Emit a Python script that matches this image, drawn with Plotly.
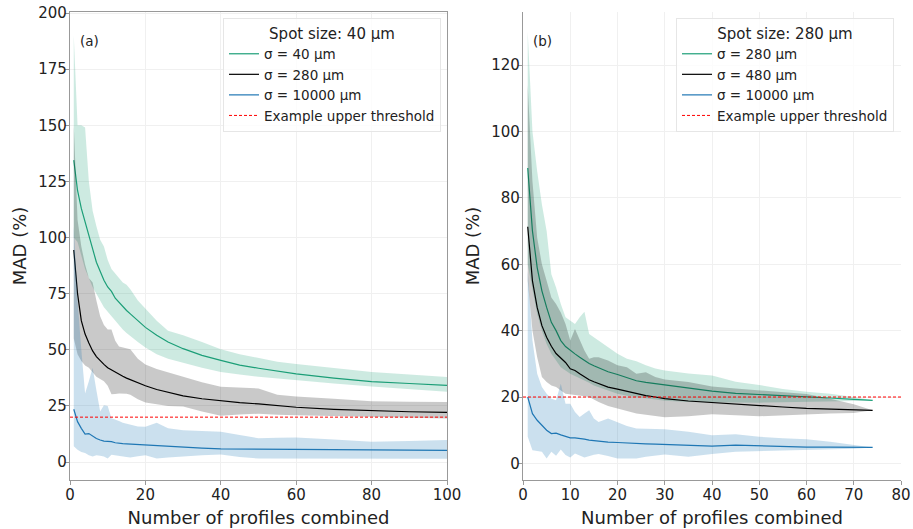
import plotly.graph_objects as go

# (a) spot size 40 um
x_a = [1, 2, 3, 4, 5, 6, 7, 8, 9, 10, 11, 12, 13, 14, 15, 16, 18, 20, 23, 26,
       30, 35, 40, 45, 50, 55, 60, 70, 80, 90, 100]

g_mean_a = [134.5, 121, 113, 107, 100, 94, 89, 85, 81, 78, 76, 73, 71, 69, 67.5, 66, 63, 60, 56.5, 53.5,
            50.5, 47.5, 45.3, 43.2, 41.8, 40.5, 39.3, 37.4, 35.8, 35, 34.2]
g_up_a = [190, 150, 150, 149, 125, 112, 105, 99, 96, 90, 86, 84, 82, 80, 79, 77, 72, 68.5, 63, 58.5,
          56.5, 53.5, 50.2, 48, 46.5, 44.7, 43.7, 42, 40.1, 39, 37.9]
g_lo_a = [100, 98, 92, 86, 82, 78, 75, 72, 69, 67, 65, 63, 61, 59, 57.5, 56, 53.5, 51, 48, 46,
          44.2, 42, 40.1, 39, 38, 37, 36.4, 35, 33.6, 32.4, 31.3]

k_mean_a = [94.5, 75, 63, 57, 53, 49.5, 47, 45, 43.5, 42, 41, 40, 39, 38.2, 37.4, 36.7, 35.3, 34, 32.3, 31,
            29.5, 28.2, 27.3, 26.5, 25.9, 25, 24.4, 23.5, 22.8, 22.4, 22.1]
k_up_a = [150, 108, 96, 88, 82, 80, 72, 65, 61, 59, 59, 54, 51.5, 51, 50.7, 50.3, 46, 43.5, 41.5, 40,
          38, 35.5, 33.5, 33.2, 32.8, 30, 29.2, 28.2, 27.1, 26.9, 26.8]
k_lo_a = [55, 48, 45, 43, 42, 40, 38, 37, 36, 34, 30.2, 30.3, 30.5, 30.5, 30.4, 30, 28, 26.5, 25.8, 25,
          24.7, 22.5, 20.6, 21.2, 21.5, 21.1, 20.9, 20.4, 20, 19.7, 19.4]

b_mean_a = [23.5, 18, 15, 12.5, 12.7, 11.5, 10.5, 9.8, 9.3, 9.2, 9.1, 8.6, 8.3, 8.2, 8.1, 8, 7.8, 7.5, 7.1, 6.9,
            6.6, 6.2, 5.9, 5.8, 5.8, 5.7, 5.7, 5.6, 5.4, 5.3, 5.2]
b_up_a = [105, 72, 50, 30.5, 36, 42, 32, 22.5, 25.3, 25, 19.5, 19, 18.3, 17.5, 17, 16.5, 15.8, 15.7, 17.5, 15,
          14.2, 13.8, 13.5, 12, 10.6, 10.8, 10.9, 10, 9, 9.4, 9.8]
b_lo_a = [7, 5.5, 4.5, 4, 3, 2.5, 3, 2.8, 2.5, 1.6, 3.3, 3.2, 3, 2.5, 2.2, 2, 2.6, 3, 1.6, 2,
          2.6, 3, 3.4, 2.2, 1.6, 1.6, 1.6, 1.6, 1.6, 1.5, 1.5]

# (b) spot size 280 um
x_b = [1, 2, 3, 4, 5, 6, 7, 8, 9, 10, 11, 12, 13, 14, 15, 16, 18, 20, 22, 24,
       26, 28, 30, 35, 40, 45, 50, 55, 60, 65, 70, 74]

g_mean_b = [89, 70, 59, 52, 47, 42.5, 40, 37, 35.2, 34, 33, 32, 31, 30.1, 29.4, 28.8, 27.6, 26.8, 25.8, 24.9,
            24.4, 24, 23.6, 22.6, 21.8, 21.1, 20.8, 20.4, 20.1, 19.7, 19.3, 19]
g_up_b = [130, 100, 88, 78, 70, 57, 53, 48, 44, 43, 42, 44, 45.7, 39, 38, 37, 35, 33, 31.5, 30.8,
          29.6, 28.6, 28, 27.1, 26.5, 24.6, 23.6, 22.4, 21.6, 21, 20, 19]
g_lo_b = [60, 52, 45, 40, 36, 33, 31, 29, 28, 27, 26.2, 25.5, 25, 24.3, 23.5, 23, 22, 21, 20.4, 20,
          19.6, 19.2, 18.9, 18.5, 18.3, 18.3, 18.3, 18.4, 18.5, 18.6, 18.8, 19]

k_mean_b = [71.3, 55, 47, 41.5, 38, 35.3, 33.1, 31.6, 30.4, 28.5, 28, 27, 26, 25.2, 24.6, 24, 23, 22.4, 21.7, 21,
            20.4, 20, 19.5, 18.8, 18.3, 17.8, 17.4, 17, 16.6, 16.4, 16.2, 16]
k_up_b = [114, 85, 68, 60, 55, 50, 48, 45.5, 42, 37, 40.5, 37, 34, 31.5, 32, 32, 31, 29.6, 29, 27,
          27.5, 26, 25.3, 24.5, 23.2, 22.6, 22.1, 21.5, 20.9, 19.5, 17.8, 16]
k_lo_b = [55, 40, 32, 26, 24.5, 23.5, 23, 22, 21, 20.8, 20.6, 20.4, 20.2, 20, 19.2, 18.5, 17.3, 16.5, 15.8, 15,
          14.6, 14.3, 13.9, 14.2, 14.8, 14.5, 14.2, 14.5, 14.8, 15, 15.2, 16]

b_mean_b = [20, 15, 13, 11.5, 10, 9, 9.1, 8.6, 8.1, 7.7, 7.7, 7.6, 7.3, 7, 6.8, 6.6, 6.4, 6.3, 6.1, 6,
            5.9, 5.8, 5.7, 5.5, 5.2, 5.5, 5.3, 5, 4.9, 4.9, 4.8, 4.8]
b_up_b = [58, 37, 27, 23, 21, 19.5, 19, 24, 18, 18, 15.5, 14, 15, 16, 13.5, 12.5, 13.5, 12.3, 11.3, 10.5,
          10.5, 10.4, 10.3, 9.5, 8.5, 8.8, 8, 7.6, 7.3, 6.5, 5.6, 4.8]
b_lo_b = [8, 4, 3.7, 3.5, 1.5, 3.5, 2.3, 4.2, 2.5, 1.8, 3, 2.4, 1.8, 2.2, 2.6, 2.8, 2.2, 1.5, 1.5, 1.5,
          2, 2.4, 2.7, 2, 2.8, 3.5, 3.5, 3.7, 4, 4.2, 4.4, 4.8]

threshold = 20
names_a = ["σ = 40 µm", "σ = 280 µm", "σ = 10000 µm"]
names_b = ["σ = 280 µm", "σ = 480 µm", "σ = 10000 µm"]

GREEN = "#1b9e77"
BLACK = "#000000"
BLUE = "#1f77b4"
fills = ["rgba(27,158,119,0.22)", "rgba(0,0,0,0.21)", "rgba(31,119,180,0.23)"]
lines = [GREEN, BLACK, BLUE]
FONT = "DejaVu Sans"

fig = go.Figure()


def add_panel(x, groups, names, xa, ya, leg, xmax):
    for (mean, up, lo), name, fc, lc in zip(groups, names, fills, lines):
        fig.add_trace(go.Scatter(x=x + x[::-1], y=up + lo[::-1], fill="toself", fillcolor=fc,
                                 line=dict(width=0), mode="lines", hoverinfo="skip",
                                 showlegend=False, xaxis=xa, yaxis=ya))
        fig.add_trace(go.Scatter(x=x, y=mean, mode="lines", name=name,
                                 line=dict(color=lc, width=1.2), legend=leg, xaxis=xa, yaxis=ya))
    fig.add_trace(go.Scatter(x=[0, xmax], y=[threshold, threshold], mode="lines",
                             name="Example upper threshold", legend=leg,
                             line=dict(color="red", width=1, dash="3px,2px"), xaxis=xa, yaxis=ya))


add_panel(x_a, [(g_mean_a, g_up_a, g_lo_a), (k_mean_a, k_up_a, k_lo_a), (b_mean_a, b_up_a, b_lo_a)],
          names_a, "x", "y", "legend", 100)
add_panel(x_b, [(g_mean_b, g_up_b, g_lo_b), (k_mean_b, k_up_b, k_lo_b), (b_mean_b, b_up_b, b_lo_b)],
          names_b, "x2", "y2", "legend2", 80)

ax_common = dict(showgrid=True, gridcolor="#f0f0f0", gridwidth=1, zeroline=False,
                 showline=True, linecolor="#999999", linewidth=1.2,
                 ticks="outside", ticklen=4, tickcolor="#999999",
                 tickfont=dict(family=FONT, size=15, color="#222"))
title_font = dict(family=FONT, size=18, color="#222")

legend_common = dict(bgcolor="rgba(255,255,255,0.8)", bordercolor="#e6e6e6", borderwidth=1,
                     font=dict(family=FONT, size=13.5, color="#222"),
                     xanchor="right", yanchor="top", tracegroupgap=0, itemwidth=30)

fig.update_layout(
    width=913, height=529,
    margin=dict(l=0, r=0, t=0, b=0),
    paper_bgcolor="white", plot_bgcolor="white",
    font=dict(family=FONT),
    xaxis=dict(domain=[70 / 913, 447 / 913], range=[0, 100], dtick=20, mirror=True,
               title=dict(text="Number of profiles combined", font=title_font, standoff=8),
               ticklabelstandoff=-3, automargin=False, anchor="y", **ax_common),
    yaxis=dict(domain=[49 / 529, 517 / 529], range=[-8, 200.5], dtick=25, mirror=True,
               title=dict(text="MAD (%)", font=title_font, standoff=6),
               ticklabelstandoff=-5, automargin=False, anchor="x", **ax_common),
    xaxis2=dict(domain=[523 / 913, 901 / 913], range=[0, 80], dtick=10,
                title=dict(text="Number of profiles combined", font=title_font, standoff=8),
                ticklabelstandoff=-3, automargin=False, anchor="y2", **ax_common),
    yaxis2=dict(domain=[49 / 529, 517 / 529], range=[-5, 136], dtick=20,
                title=dict(text="MAD (%)", font=title_font, standoff=6),
                ticklabelstandoff=-5, automargin=False, anchor="x2", **ax_common),
    legend=dict(x=441 / 913, y=511 / 529,
                title=dict(text="Spot size: 40 µm", side="top center",
                           font=dict(family=FONT, size=15, color="#222")),
                **legend_common),
    legend2=dict(x=894 / 913, y=511 / 529,
                 title=dict(text="Spot size: 280 µm", side="top center",
                            font=dict(family=FONT, size=15, color="#222")),
                 **legend_common),
    annotations=[
        dict(text="(a)", xref="x domain", yref="y domain", x=0.021, y=0.938,
             xanchor="left", yanchor="middle", showarrow=False,
             font=dict(family=FONT, size=13.5, color="#222")),
        dict(text="(b)", xref="x2 domain", yref="y2 domain", x=0.021, y=0.938,
             xanchor="left", yanchor="middle", showarrow=False,
             font=dict(family=FONT, size=13.5, color="#222")),
    ],
)

# the page body has a default 8px margin; remove it so the figure fills the window
fig.write_html("out.html", config={"displayModeBar": False},
               post_script="document.body.style.margin = '0';")
